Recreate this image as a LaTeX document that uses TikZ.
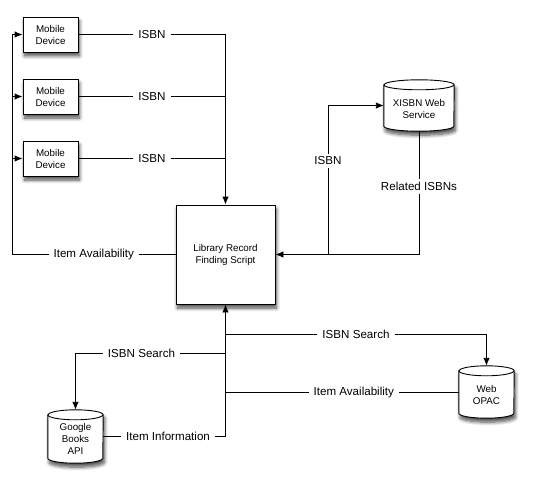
\documentclass[tikz,border=0pt]{standalone}
\usepackage{fontspec}
\setmainfont{Liberation Sans}
\usetikzlibrary{arrows.meta,shadows.blur,backgrounds}
\newcommand\mycyl[2]{%
  \draw[cylsty] ([yshift=-5pt]#1.north west) -- ([yshift=5pt]#1.south west)
    arc[start angle=180,end angle=360,x radius=#2,y radius=5]
    -- ([yshift=-5pt]#1.north east)
    arc[start angle=0,end angle=180,x radius=#2,y radius=5] -- cycle;
  \draw[line width=0.9pt] ([yshift=-5pt]#1.north west)
    arc[start angle=180,end angle=360,x radius=#2,y radius=5];}
\begin{document}
\begin{tikzpicture}[x=1pt,y=1pt,
  shad/.style={blur shadow={shadow xshift=1.5pt,shadow yshift=-4pt,shadow blur steps=8,shadow blur radius=3.5pt,shadow opacity=70}},
  box/.style={draw, fill=white, line width=0.9pt, shad, align=center,
    font=\fontsize{9.8}{12}\selectfont, inner sep=0pt},
  cylnode/.style={inner sep=0pt},
  cyltext/.style={align=center, font=\fontsize{9.8}{12}\selectfont, inner sep=0pt},
  cylsty/.style={draw, fill=white, line width=0.9pt, shad},
  line/.style={draw, line width=0.9pt},
  conn/.style={line, -{Latex[length=8pt,width=6.5pt]}},
  lab/.style={fill=white, font=\fontsize{11.6}{13}\selectfont, inner xsep=5pt, inner ysep=3pt}]
\useasboundingbox (0,0) rectangle (533,-487);
% boxes
\node[box, minimum width=55, minimum height=35] (md1) at (50.5,-34.5) {Mobile\\Device};
\node[box, minimum width=55, minimum height=35] (md2) at (50.5,-96.5) {Mobile\\Device};
\node[box, minimum width=55, minimum height=35] (md3) at (50.5,-158.5) {Mobile\\Device};
\node[box, minimum width=99, minimum height=99] (lib) at (225.5,-254.5) {Library Record\\Finding Script};
% cylinders
\node[cylnode, minimum width=70, minimum height=51] (xisbn) at (419,-105.5) {};
\node[cylnode, minimum width=55, minimum height=53] (gb) at (75.5,-436.5) {};
\node[cylnode, minimum width=55, minimum height=52] (opac) at (486.5,-392) {};
\begin{scope}[on background layer]
\mycyl{xisbn}{35}
\mycyl{gb}{27.5}
\mycyl{opac}{27.5}
\end{scope}
\node[cyltext] (xisbnt) at ([yshift=-3pt]xisbn.center) {XISBN Web\\Service};
\node[cyltext] (gbt) at ([yshift=-2pt]gb.center) {Google\\Books\\API};
\node[cyltext] (opact) at ([yshift=-3pt]opac.center) {Web\\OPAC};
% top connectors
\draw[conn] (md1.east) -- node[lab]{ISBN} (md1.east -| lib.north) -- (lib.north);
\draw[line] (md2.east) -- node[lab]{ISBN} (md2.east -| lib.north);
\draw[line] (md3.east) -- node[lab]{ISBN} (md3.east -| lib.north);
\coordinate (lx) at (12,-254.5);
\draw[conn] (lib.west) -- node[lab]{Item Availability} (lx) -- (lx |- md1.west) -- (md1.west);
\draw[conn] (lx |- md2.west) -- (md2.west);
\draw[conn] (lx |- md3.west) -- (md3.west);
% right connectors
\coordinate (jx) at (328,-254.5);
\draw[conn] (jx) -- node[lab,pos=0.63]{ISBN} (jx |- xisbn.west) -- (xisbn.west);
\draw[conn] (xisbn.south) -- node[lab,pos=0.45]{Related ISBNs} (xisbn.south |- lib.east) -- (lib.east);
% bottom connectors
\draw[conn] (gb.east) -- node[lab,pos=0.53]{Item Information} (gb.east -| lib.south) -- (lib.south);
\coordinate (sl) at (0,-353);
\coordinate (sr) at (0,-334);
\draw[conn] (lib.south |- sl) -- node[lab,pos=0.56]{ISBN Search} (gb.north |- sl) -- (gb.north);
\draw[conn] (lib.south |- sr) -- node[lab]{ISBN Search} (opac.north |- sr) -- (opac.north);
\draw[line] (opac.west) -- node[lab,pos=0.45]{Item Availability} (opac.west -| lib.south);
\end{tikzpicture}
\end{document}
